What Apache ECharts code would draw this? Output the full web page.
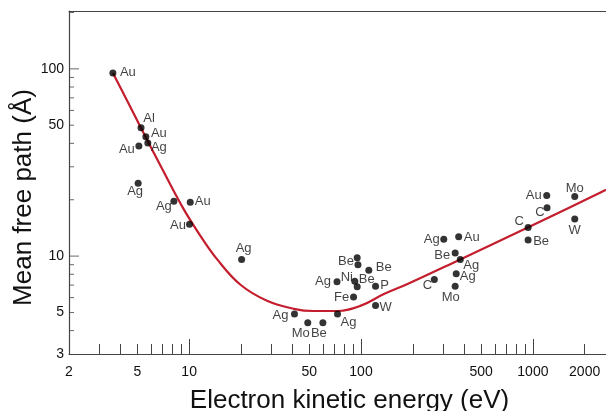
<!DOCTYPE html>
<html>
<head>
<meta charset="utf-8">
<script src="https://cdn.jsdelivr.net/npm/echarts@6/dist/echarts.min.js"></script>
<style>
  html, body { margin: 0; padding: 0; background: #fff; }
  #chart { width: 606px; height: 411px; }
</style>
</head>
<body>
<div id="chart"></div>
<script>
// measured points: material, energy (eV), mean free path (Å)
const materials = ['Au', 'Al', 'Au', 'Ag', 'Au', 'Ag', 'Ag', 'Au', 'Au', 'Ag',
  'Ag', 'Mo', 'Be', 'Ag', 'Ag', '', 'Be', 'Be', 'Ni', 'Be', 'P', 'Fe', 'W',
  'Ag', 'Au', 'Be', 'Ag', 'Ag', 'C', 'Mo', 'C', 'Be', 'Au', 'C', 'Mo', 'W']
const energies = [3.6, 5.25, 5.6, 5.75, 5.1, 5.05, 8.15, 10.15, 10.05, 20.2,
  41, 49, 60, 73, 72.5, 95, 96, 111, 92, 95, 121.5, 90.5, 121.5,
  303, 370, 353, 378, 358, 267, 353, 938, 938, 1204, 1209, 1752, 1752]
const paths = [95, 48.5, 43.4, 40.2, 38.7, 24.5, 19.6, 19.4, 14.8, 9.6,
  4.9, 4.4, 4.4, 4.9, 7.3, 9.8, 9.0, 8.4, 7.35, 6.85, 6.9, 6.05, 5.45,
  12.3, 12.7, 10.4, 9.6, 8.05, 7.5, 6.9, 14.2, 12.2, 21.1, 18.1, 20.8, 15.8]

// universal curve
const curveEnergy = [3.6, 4.33, 5.24, 7.0, 9.33, 11.65, 14.57, 19.9, 28.4, 40.6,
  53, 72.5, 99, 135, 185, 378, 934, 2458, 2663]
const curvePath = [94.9, 68.4, 48.5, 29.0, 17.7, 12.8, 9.6, 7.03, 5.77, 5.23,
  5.09, 5.09, 5.42, 6.25, 7.07, 9.6, 14.2, 21.8, 22.6]

// axis ticks and labels
const xLabels = [2, 5, 10, 50, 100, 500, 1000, 2000]
const xMajor = [10, 100, 1000]
const xTicks = [3, 4, 5, 6, 7, 8, 9, 10, 20, 30, 40, 50, 60, 70, 80, 90, 100,
  200, 300, 400, 500, 600, 700, 800, 900, 1000, 2000]
const yLabels = [3, 5, 10, 50, 100]
const yMajor = [10, 100]
const yMinor = [4, 5, 6, 7, 8, 9, 20, 30, 40, 50, 60, 70, 80, 90, 200]

// label placement around each dot (style only)
const labelShift = [[15, -1], [8, -9], [13, -3], [11, 4], [-12, 3], [-3, 8], [-10, 5],
  [12.5, -1], [-11.5, 1], [2, -11], [-14, 1], [-7, 11], [-4, 11], [11, 8], [-14, 0],
  [0, 0], [-12, -3], [15, -3], [-8, -4], [9.5, -7], [9, -1], [-12, 0], [10, 2],
  [-12, 0], [13, 1], [-13, 3], [11, 6], [11.5, 3], [-7, 6], [-4.5, 11],
  [-9, -6], [13, 1], [-13, 0], [-7, 5], [0, -8], [0, 12]]

const lg = Math.log10
const X_MIN = lg(2), X_MAX = lg(2663)
const Y_MIN = lg(3), Y_MAX = lg(203.7)
const FONT = 'Liberation Sans'
const AXIS_COLOR = '#444'

const fmt = v => String(Math.round(Math.pow(10, v)))

function xAxisBase(extra) {
  return Object.assign({
    type: 'value', min: X_MIN, max: X_MAX, position: 'bottom', offset: 0,
    splitLine: { show: false },
    axisLine: { show: false, onZero: false },
    axisLabel: { show: false },
    axisTick: { show: false }
  }, extra)
}

// y ticks drawn as thin rects sitting on the left axis, inward
function yTickSeries(values, len) {
  return {
    type: 'scatter',
    xAxisIndex: 0, yAxisIndex: 0,
    data: values.map(v => [X_MIN, lg(v)]),
    symbol: 'rect',
    symbolSize: [len, 1],
    symbolOffset: [len / 2, 0],
    itemStyle: { color: AXIS_COLOR },
    silent: true,
    clip: false,
    emphasis: { disabled: true },
    z: 1
  }
}

const dotData = energies.map((e, i) => ({
  value: [lg(e), lg(paths[i])],
  name: materials[i],
  label: { offset: labelShift[i] }
}))

const chart = echarts.init(document.getElementById('chart'))
chart.setOption({
  animation: false,
  backgroundColor: '#fff',
  grid: { left: 69, top: 11, right: 0, bottom: 57, containLabel: false, outerBoundsMode: 'none' },
  xAxis: [
    // all ticks short, labels, title
    xAxisBase({
      axisLine: { show: true, onZero: false, lineStyle: { color: AXIS_COLOR, width: 1.2 } },
      axisTick: { show: true, inside: true, length: 10, customValues: xTicks.map(lg), lineStyle: { color: AXIS_COLOR } },
      axisLabel: {
        show: true, margin: 11, customValues: xLabels.map(lg), formatter: fmt,
        fontFamily: FONT, fontSize: 14, color: '#111'
      },
      name: 'Electron kinetic energy (eV)',
      nameLocation: 'middle', nameGap: 34, nameMoveOverlap: false,
      nameTextStyle: { fontFamily: FONT, fontSize: 26, color: '#111', padding: [0, 0, 0, 24] }
    }),
    // long ticks at decades
    xAxisBase({
      axisTick: { show: true, inside: true, length: 15, customValues: xMajor.map(lg), lineStyle: { color: AXIS_COLOR } }
    }),
    // top frame line
    xAxisBase({
      position: 'top',
      axisLine: { show: true, onZero: false, lineStyle: { color: AXIS_COLOR, width: 1.2 } }
    })
  ],
  yAxis: {
    type: 'value', min: Y_MIN, max: Y_MAX, position: 'left',
    splitLine: { show: false },
    axisLine: { show: true, onZero: false, lineStyle: { color: AXIS_COLOR, width: 1.2 } },
    axisTick: { show: false },
    axisLabel: {
      show: true, margin: 5, customValues: yLabels.map(lg), formatter: fmt,
      fontFamily: FONT, fontSize: 14, color: '#111'
    },
    name: 'Mean free path (Å)',
    nameLocation: 'middle', nameGap: 32, nameMoveOverlap: false,
    nameTextStyle: { fontFamily: FONT, fontSize: 26, color: '#111', padding: [0, 30, 0, 0] }
  },
  series: [
    yTickSeries(yMinor, 5),
    yTickSeries(yMajor, 10),
    {
      type: 'line',
      xAxisIndex: 0, yAxisIndex: 0,
      data: curveEnergy.map((e, i) => [lg(e), lg(curvePath[i])]),
      smooth: 0.4,
      showSymbol: false,
      lineStyle: { color: '#c41e2e', width: 2.2 },
      z: 2
    },
    {
      type: 'scatter',
      xAxisIndex: 0, yAxisIndex: 0,
      data: dotData,
      symbol: 'circle',
      symbolSize: 7,
      itemStyle: { color: '#000' },
      label: {
        show: true,
        position: 'inside',
        formatter: p => p.name,
        fontFamily: FONT, fontSize: 13, color: '#111'
      },
      emphasis: { disabled: true },
      z: 3
    }
  ]
})
</script>
</body>
</html>
